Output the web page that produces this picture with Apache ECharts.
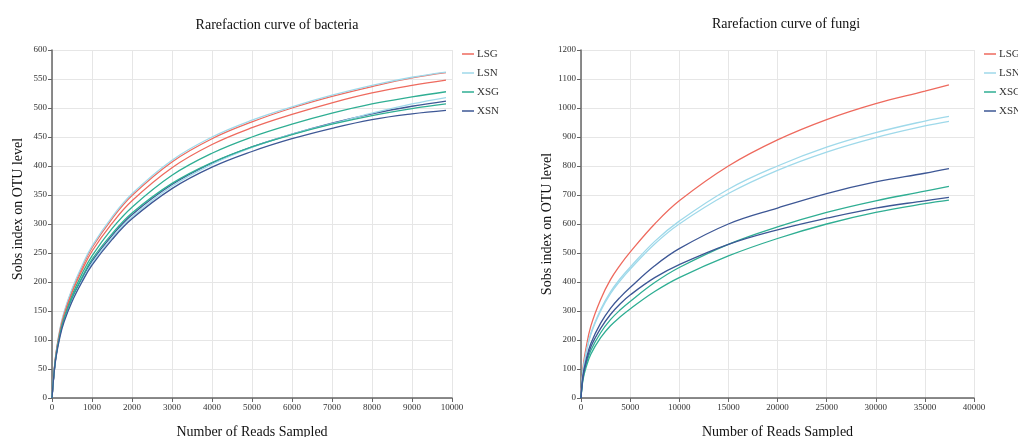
<!DOCTYPE html>
<html>
<head>
<meta charset="utf-8">
<script src="https://cdn.jsdelivr.net/npm/echarts@6/dist/echarts.min.js"></script>
<style>
  html, body { margin: 0; padding: 0; background: #fff; }
  #chart { width: 1018px; height: 437px; }
</style>
</head>
<body>
<div id="chart"></div>
<script>
// Sampling depths (reads) at which observed OTUs were recorded
const bactReads = [0, 50, 100, 200, 300, 500, 750, 1000, 1500, 2000, 3000, 4000, 5000, 6000, 7000, 8000, 9000, 9850];
const fungiReads = [0, 200, 500, 1000, 2000, 3000, 4000, 5000, 7500, 10000, 15000, 20000, 25000, 30000, 35000, 37450];

// Bacteria: Sobs per sample
const bactLSN1 = [0, 45, 78, 120, 148, 188, 228, 262, 312, 352, 410, 450, 479, 502, 522, 539, 553, 562];
const bactLSG1 = [0, 44, 77, 118, 146, 186, 225, 259, 309, 349, 407, 447, 476, 500, 520, 537, 552, 561];
const bactLSG2 = [0, 44, 76, 116, 143, 182, 220, 253, 301, 340, 397, 437, 466, 489, 509, 526, 539, 548];
const bactXSG1 = [0, 43, 74, 113, 139, 177, 214, 245, 292, 329, 384, 422, 450, 472, 491, 507, 519, 528];
const bactLSN2 = [0, 42, 72, 108, 133, 168, 202, 232, 276, 312, 365, 403, 432, 455, 473, 491, 507, 518];
const bactXSN1 = [0, 42, 72, 110, 135, 171, 206, 236, 280, 316, 368, 405, 433, 455, 474, 490, 503, 512];
const bactXSG2 = [0, 43, 73, 111, 137, 173, 208, 239, 283, 319, 370, 406, 433, 454, 472, 487, 499, 507];
const bactXSN2 = [0, 41, 70, 106, 131, 166, 200, 229, 273, 309, 361, 398, 425, 447, 465, 480, 490, 496];

// Fungi: Sobs per sample
const fungiLSG1 = [0, 102, 170, 248, 340, 408, 459, 503, 600, 680, 800, 890, 960, 1015, 1058, 1080];
const fungiLSN1 = [0, 92, 153, 223, 305, 366, 412, 451, 540, 610, 720, 800, 865, 915, 955, 971];
const fungiLSN2 = [0, 90, 150, 219, 300, 360, 405, 444, 531, 600, 705, 785, 848, 898, 938, 954];
const fungiXSN1 = [0, 77, 129, 188, 258, 309, 348, 381, 456, 515, 600, 655, 705, 745, 775, 791];
const fungiXSN2 = [0, 72, 121, 176, 240, 288, 325, 355, 415, 460, 530, 580, 620, 655, 680, 692];
const fungiXSG1 = [0, 68, 113, 164, 225, 270, 304, 333, 398, 450, 530, 590, 640, 680, 713, 730];
const fungiXSG2 = [0, 62, 104, 151, 208, 249, 280, 307, 367, 415, 490, 550, 600, 640, 670, 682];

const groups = ['LSG', 'LSN', 'XSG', 'XSN'];
const colors = { LSG: '#ee6a5e', LSN: '#9fd9ea', XSG: '#2fae93', XSN: '#3d5795' };

const serif = 'Liberation Serif';

function pairs(xs, ys) {
  return xs.map((x, i) => [x, ys[i]]);
}

function curve(name, idx, xs, ys) {
  return {
    type: 'line',
    name: name,
    xAxisIndex: idx,
    yAxisIndex: idx,
    data: pairs(xs, ys),
    smooth: 0.4,
    showSymbol: false,
    symbol: 'none',
    color: colors[name],
    lineStyle: { width: 1.3, color: colors[name] },
    emphasis: { disabled: true },
    z: 3
  };
}

const plainNumber = v => String(v);

function xAxis(idx, max, interval) {
  return {
    type: 'value',
    gridIndex: idx,
    min: 0, max: max, interval: interval,
    name: 'Number of Reads Sampled',
    nameLocation: 'middle',
    nameGap: 27,
    nameTextStyle: { fontFamily: serif, fontSize: 14, color: '#111' },
    axisLine: { show: true, lineStyle: { color: '#666', width: 1.5 } },
    axisTick: { show: true, length: 4, lineStyle: { color: '#666' } },
    axisLabel: { fontFamily: serif, fontSize: 9, color: '#333', margin: 5, formatter: plainNumber },
    splitLine: { show: true, lineStyle: { color: '#e6e6e6', width: 1 } }
  };
}

// namePad shifts the rotated axis title along the axis (left pad moves it up)
function yAxis(idx, max, interval, namePad) {
  return {
    type: 'value',
    gridIndex: idx,
    min: 0, max: max, interval: interval,
    name: 'Sobs index on OTU level',
    nameLocation: 'middle',
    nameGap: 27,
    nameTextStyle: { fontFamily: serif, fontSize: 14, color: '#111', padding: namePad },
    axisLine: { show: true, lineStyle: { color: '#666', width: 1.5 } },
    axisTick: { show: true, length: 4, lineStyle: { color: '#666' } },
    axisLabel: { fontFamily: serif, fontSize: 9, color: '#333', margin: 5, formatter: plainNumber },
    splitLine: { show: true, lineStyle: { color: '#e6e6e6', width: 1 } }
  };
}

function legend(left) {
  return {
    data: groups,
    orient: 'vertical',
    left: left,
    top: 42,
    itemWidth: 12,
    itemHeight: 1.5,
    itemGap: 5,
    icon: 'rect',
    textStyle: { fontFamily: serif, fontSize: 11, color: '#333', lineHeight: 14, padding: [0, 0, 0, -2] },
    selectedMode: false
  };
}

const chart = echarts.init(document.getElementById('chart'), null, { renderer: 'canvas' });
chart.setOption({
  animation: false,
  backgroundColor: '#fff',
  title: [
    { text: 'Rarefaction curve of bacteria', left: 272, top: 13, textAlign: 'center',
      textStyle: { fontFamily: serif, fontSize: 14, fontWeight: 'normal', color: '#111' } },
    { text: 'Rarefaction curve of fungi', left: 781, top: 12, textAlign: 'center',
      textStyle: { fontFamily: serif, fontSize: 14, fontWeight: 'normal', color: '#111' } }
  ],
  legend: [legend(457), legend(979)],
  grid: [
    { left: 52, top: 50, width: 400, height: 348, containLabel: false, outerBoundsMode: 'none' },
    { left: 581, top: 50, width: 393, height: 348, containLabel: false, outerBoundsMode: 'none' }
  ],
  xAxis: [xAxis(0, 10000, 1000), xAxis(1, 40000, 5000)],
  yAxis: [yAxis(0, 600, 50, [0, 0, 0, 30]), yAxis(1, 1200, 100, [0, 0, 0, 0])],
  series: [
    curve('LSG', 0, bactReads, bactLSG1),
    curve('LSN', 0, bactReads, bactLSN1),
    curve('XSG', 0, bactReads, bactXSG1),
    curve('XSN', 0, bactReads, bactXSN1),
    curve('LSG', 0, bactReads, bactLSG2),
    curve('LSN', 0, bactReads, bactLSN2),
    curve('XSG', 0, bactReads, bactXSG2),
    curve('XSN', 0, bactReads, bactXSN2),
    curve('LSG', 1, fungiReads, fungiLSG1),
    curve('LSN', 1, fungiReads, fungiLSN1),
    curve('LSN', 1, fungiReads, fungiLSN2),
    curve('XSG', 1, fungiReads, fungiXSG1),
    curve('XSG', 1, fungiReads, fungiXSG2),
    curve('XSN', 1, fungiReads, fungiXSN1),
    curve('XSN', 1, fungiReads, fungiXSN2)
  ]
});
</script>
</body>
</html>
